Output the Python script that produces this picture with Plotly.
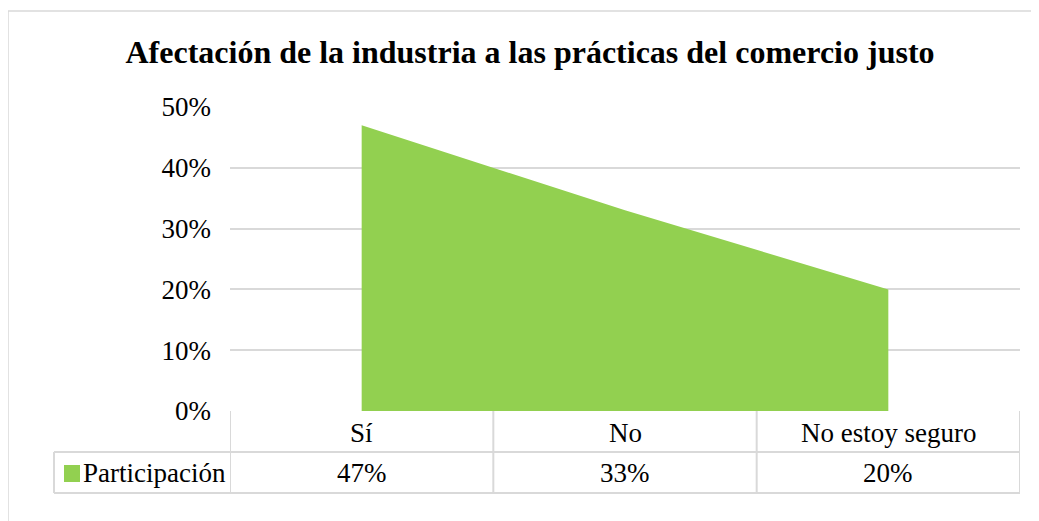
import plotly.graph_objects as go

categories = ["Sí", "No", "No estoy seguro"]
values = [0.47, 0.33, 0.20]
value_labels = ["47%", "33%", "20%"]
series_name = "Participación"
title_text = "Afectación de la industria a las prácticas del comercio justo"
y_ticks = [0, 0.1, 0.2, 0.3, 0.4, 0.5]

GREEN = "#92D050"
GRID = "#D9D9D9"
FONT = "Liberation Serif, Times New Roman, serif"

# page has an 8px body margin; work in window coordinates and offset
OFF = 8
W, H = 1039 - OFF, 521 - OFF
L, R, T, B = 230 - OFF, 19, 107 - OFF, 521 - 411
pw, ph = W - L - R, H - T - B

def px_x(x):
    return (x - OFF - L) / pw

def px_y(y):
    return (H - B - (y - OFF)) / ph

fig = go.Figure()
fig.add_trace(go.Scatter(
    x=categories, y=values, mode="lines", line=dict(width=0, color=GREEN),
    fill="tozeroy", fillcolor=GREEN, name=series_name, showlegend=False,
    hoverinfo="x+y",
))

shapes = []
line = dict(color=GRID, width=2)
# outer border
shapes.append(dict(type="rect", xref="paper", yref="paper", x0=px_x(8), x1=px_x(1060),
                   y0=px_y(540), y1=px_y(11), line=dict(color=GRID, width=1.5), layer="below"))
# table lines
row1_bottom = px_y(452)
row2_bottom = px_y(493)
shapes.append(dict(type="line", xref="paper", yref="paper", x0=px_x(54), x1=1, y0=row1_bottom, y1=row1_bottom, line=line))
shapes.append(dict(type="line", xref="paper", yref="paper", x0=px_x(54), x1=1, y0=row2_bottom, y1=row2_bottom, line=line))
shapes.append(dict(type="line", xref="paper", yref="paper", x0=px_x(54), x1=px_x(54), y0=row1_bottom, y1=row2_bottom, line=line))
for b in [-0.5, 0.5, 1.5, 2.5]:
    shapes.append(dict(type="line", xref="x", yref="paper", x0=b, x1=b, y0=0, y1=row2_bottom, line=line))
# legend swatch
shapes.append(dict(type="rect", xref="paper", yref="paper", x0=px_x(64), x1=px_x(80),
                   y0=px_y(482), y1=px_y(465), line=dict(width=0), fillcolor=GREEN))

annotations = []
for c, v in zip(categories, value_labels):
    annotations.append(dict(x=c, xref="x", y=px_y(433), yref="paper", text=c, showarrow=False,
                            font=dict(family=FONT, size=27, color="#000"), xanchor="center", yanchor="middle"))
    annotations.append(dict(x=c, xref="x", y=px_y(473), yref="paper", text=v, showarrow=False,
                            font=dict(family=FONT, size=27, color="#000"), xanchor="center", yanchor="middle"))
annotations.append(dict(x=px_x(81), xref="paper", y=px_y(473), yref="paper", text=series_name, showarrow=False,
                        font=dict(family=FONT, size=27, color="#000"), xanchor="left", yanchor="middle"))

fig.update_layout(
    width=W, height=H,
    margin=dict(l=L, r=R, t=T, b=B),
    paper_bgcolor="white", plot_bgcolor="white",
    title=dict(text="<b>" + title_text + "</b>", x=(530 - OFF) / W, xref="container", xanchor="center",
               y=1 - (52 - OFF) / H, yref="container", yanchor="middle",
               font=dict(family=FONT, size=32, color="#000")),
    xaxis=dict(type="category", range=[-0.5, 2.5], showticklabels=False, showgrid=False,
               zeroline=False, showline=False, ticks=""),
    yaxis=dict(range=[0, 0.5], tickvals=y_ticks, tickformat=".0%", showgrid=True, gridcolor=GRID,
               gridwidth=2, zeroline=False, showline=False, ticks="", ticklabelstandoff=18,
               tickfont=dict(family=FONT, size=27, color="#000")),
    shapes=shapes, annotations=annotations, showlegend=False,
)

fig.write_html("out.html")
